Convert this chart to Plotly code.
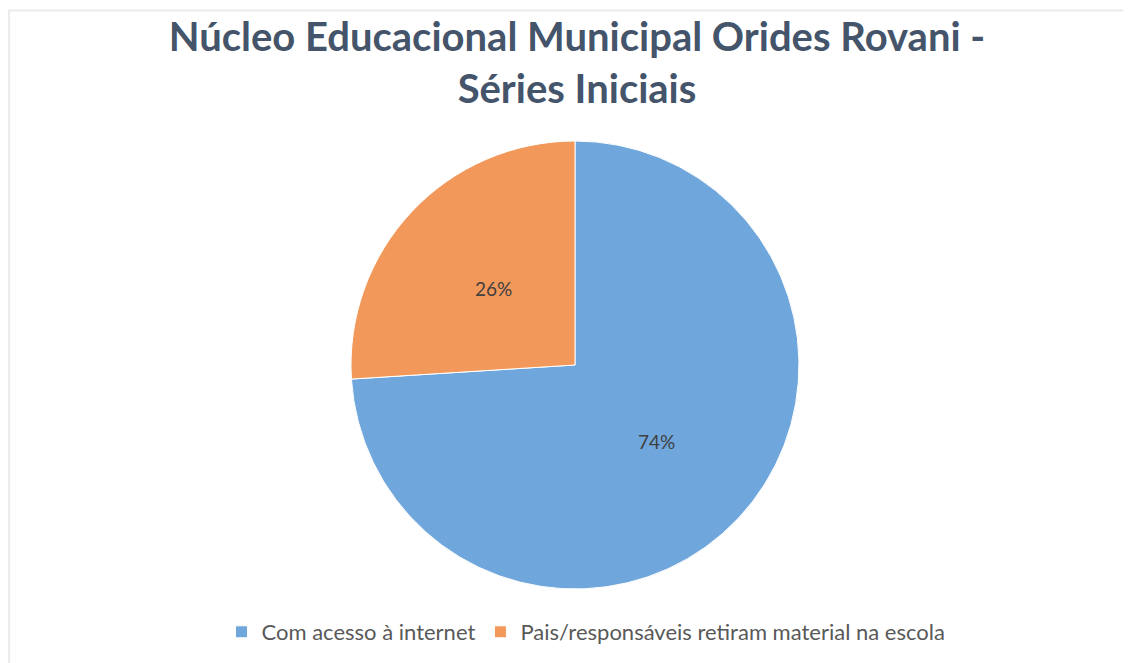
import math
import plotly.graph_objects as go

labels = ["Com acesso à internet", "Pais/responsáveis retiram material na escola"]
values = [74, 26]
colors = ["#6fa6dc", "#f2985a"]
title_text = "Núcleo Educacional Municipal Orides Rovani -<br>Séries Iniciais"

W, H = 1131, 663
OFF = 8  # page body offset
cx, cy, r = 575 - OFF, 365 - OFF, 224

fig = go.Figure()
fig.add_trace(go.Pie(
    labels=labels, values=values, sort=False, direction="clockwise", rotation=0,
    marker=dict(colors=colors, line=dict(color="white", width=1)),
    textinfo="none", hoverinfo="label+percent",
    domain=dict(x=[(cx - r) / W, (cx + r) / W], y=[1 - (cy + r) / H, 1 - (cy - r) / H]),
))

# percentage labels at half radius along each slice's mid-angle
total = sum(values)
start = 0.0
for v in values:
    mid = start + v / total * 360 / 2
    start += v / total * 360
    a = math.radians(mid)
    px = cx + 0.5 * r * math.sin(a)
    py = cy - 0.5 * r * math.cos(a)
    fig.add_annotation(x=px / W, y=1 - py / H, xref="paper", yref="paper",
                       text=f"{round(v / total * 100)}%", showarrow=False,
                       font=dict(family="Lato, Open Sans, sans-serif", size=19, color="#404040"))

fig.add_shape(type="line", xref="paper", yref="paper", x0=(7 - OFF) / W, x1=1,
              y0=1 - (10.5 - OFF) / H, y1=1 - (10.5 - OFF) / H,
              line=dict(color="#ebebeb", width=2))
fig.add_shape(type="line", xref="paper", yref="paper", x0=(8 - OFF) / W + 0.001, x1=(8 - OFF) / W + 0.001,
              y0=0, y1=1 - (10 - OFF) / H,
              line=dict(color="#ebebeb", width=2))

fig.update_layout(
    width=W, height=H,
    margin=dict(l=0, r=0, t=0, b=0),
    paper_bgcolor="white", plot_bgcolor="white",
    title=dict(text=title_text, x=(577 - OFF) / W, xanchor="center", y=1 - (51 - OFF) / H, yanchor="middle",
               font=dict(family="Lato, Open Sans, sans-serif", size=40, color="#44546a", weight="bold")),
    showlegend=True,
    legend=dict(orientation="h", x=(586 - OFF) / W, xanchor="center", y=1 - (632 - OFF) / H, yanchor="middle",
                font=dict(family="Lato, Open Sans, sans-serif", size=22, color="#595959"),
                itemwidth=30, traceorder="normal"),
)

fig.write_html("out.html")
